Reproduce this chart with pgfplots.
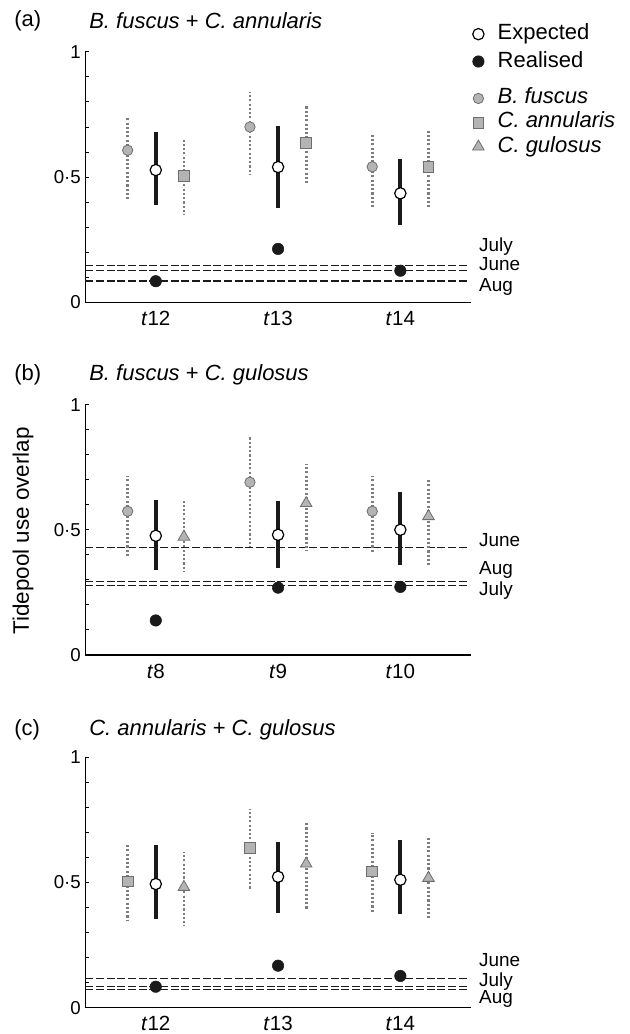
\documentclass[border=0pt]{standalone}
\usepackage{fontspec}
\setmainfont{Liberation Sans}
\usepackage{pgfplots}
\pgfplotsset{compat=1.18}

\definecolor{whisk}{HTML}{7D7D7D}
\definecolor{mfill}{HTML}{B4B4B4}
\definecolor{medge}{HTML}{6E6E6E}
\definecolor{ink}{HTML}{1A1A1A}

\tikzset{mlab/.style={anchor=west, xshift=6.2pt, inner sep=0pt, font=\fontsize{14.2}{15}\selectfont}}

\pgfplotsset{
  panel/.style={
    scale only axis, width=288.9pt, height=187.8pt,
    xmin=0.425, xmax=3.575, ymin=0, ymax=1,
    axis lines=left, axis line style={-, line width=1pt, black},
    clip=false,
    xtick={1,2,3},
    major x tick style={draw=none},
    ytick={0,0.5,1}, yticklabels={0,0·5,1},
    minor ytick={0.1,0.2,0.3,0.4,0.6,0.7,0.8,0.9},
    tick align=inside,
    major tick length=3pt, minor tick length=3pt,
    tick style={black, line width=0.7pt},
    xticklabel style={font=\fontsize{15.4}{16}\selectfont, yshift=-3pt},
    yticklabel style={font=\fontsize{14}{15}\selectfont},
    legend cell align=left,
    legend image code/.code={\path (-8pt,0pt) (8pt,0pt); \draw[##1] plot coordinates {(0pt,0pt)};},
  },
  hline/.style={forget plot, ink, line width=0.9pt, dash pattern=on 6pt off 2pt},
  whis/.style={forget plot,
    error bars/y dir=both, error bars/y explicit, error bars/error mark=none},
  spbar/.style={whis, error bars/error bar style={line width=2pt, whisk, solid, dash pattern=on 1.6pt off 1.6pt}},
  expbar/.style={whis, error bars/error bar style={line width=3pt, ink, solid}},
  exp/.style={only marks, mark=*, mark size=4.25pt, mark options={solid, fill=white, draw=black, line width=0.9pt}},
  real/.style={only marks, mark=*, mark size=4.3pt, mark options={solid, fill=ink, draw=ink}},
  bf/.style={only marks, mark=*, mark size=3.9pt, mark options={solid, fill=mfill, draw=medge, line width=0.6pt}},
  ca/.style={only marks, mark=square*, mark size=4pt, mark options={solid, fill=mfill, draw=medge, line width=0.6pt}},
  cg/.style={only marks, mark=triangle*, mark size=5pt, mark options={solid, fill=mfill, draw=medge, line width=0.6pt}},
}

\begin{document}
\begin{tikzpicture}
\path[use as bounding box] (0pt,0pt) rectangle (471.75pt,-775.5pt);

% (a) B. fuscus + C. annularis
\begin{axis}[panel, at={(64.1pt,-226.7pt)}, anchor=south west,
  xticklabels={\textit{t}12,\textit{t}13,\textit{t}14},
  legend style={at={(0.991,1.113)}, anchor=north west, draw=none, fill=none,
    inner sep=0pt, row sep=5pt, column sep=6.25pt,
    font=\fontsize{16.5}{18}\selectfont,
    nodes={inner sep=0pt, text height=12pt, text depth=3.5pt}}]
\addplot[hline] coordinates {(0.425,0.146) (3.553,0.146)};
\addplot[hline] coordinates {(0.425,0.128) (3.553,0.128)};
\addplot[hline] coordinates {(0.425,0.085) (3.553,0.085)};
\addplot[bf, spbar] coordinates {
  (0.77,0.607) += (0,0.130) -= (0,0.195)
  (1.77,0.700) += (0,0.140) -= (0,0.188)
  (2.77,0.541) += (0,0.129) -= (0,0.168)};
\addplot[ca, spbar] coordinates {
  (1.23,0.505) += (0,0.151) -= (0,0.157)
  (2.23,0.637) += (0,0.153) -= (0,0.169)
  (3.23,0.541) += (0,0.151) -= (0,0.170)};
\addplot[exp, expbar] coordinates {
  (1,0.528) += (0,0.152) -= (0,0.140)
  (2,0.540) += (0,0.165) -= (0,0.162)
  (3,0.435) += (0,0.137) -= (0,0.127)};
\addplot[real, forget plot] coordinates {(1,0.084) (2,0.213) (3,0.126)};
\addlegendimage{exp}
\addlegendentry{Expected}
\addlegendimage{real}
\addlegendentry{Realised}
\node[mlab] at (axis cs:3.575,0.221) {July};
\node[mlab] at (axis cs:3.575,0.152) {June};
\node[mlab] at (axis cs:3.575,0.061) {Aug};
\end{axis}

% (b) B. fuscus + C. gulosus
\begin{axis}[panel, at={(64.1pt,-491.25pt)}, anchor=south west,
  xticklabels={\textit{t}8,\textit{t}9,\textit{t}10},
  legend style={at={(0.991,2.2636)}, anchor=north west, draw=none, fill=none,
    inner sep=0pt, row sep=3.1pt, column sep=6.25pt,
    font=\fontsize{16.5}{18}\selectfont\itshape,
    nodes={inner sep=0pt, text height=11.5pt, text depth=3.5pt}}]
\addplot[hline] coordinates {(0.425,0.429) (3.553,0.429)};
\addplot[hline] coordinates {(0.425,0.294) (3.553,0.294)};
\addplot[hline] coordinates {(0.425,0.278) (3.553,0.278)};
\addplot[bf, spbar] coordinates {
  (0.77,0.574) += (0,0.139) -= (0,0.186)
  (1.77,0.690) += (0,0.183) -= (0,0.256)
  (2.77,0.574) += (0,0.139) -= (0,0.162)};
\addplot[cg, spbar] coordinates {
  (1.23,0.472) += (0,0.143) -= (0,0.140)
  (2.23,0.606) += (0,0.155) -= (0,0.188)
  (3.23,0.554) += (0,0.151) -= (0,0.202)};
\addplot[exp, expbar] coordinates {
  (1,0.476) += (0,0.144) -= (0,0.136)
  (2,0.480) += (0,0.135) -= (0,0.134)
  (3,0.500) += (0,0.151) -= (0,0.140)};
\addplot[real, forget plot] coordinates {(1,0.138) (2,0.269) (3,0.272)};
\addlegendimage{bf}
\addlegendentry{B. fuscus}
\addlegendimage{ca}
\addlegendentry{C. annularis}
\addlegendimage{cg}
\addlegendentry{C. gulosus}
\node[mlab] at (axis cs:3.575,0.458) {June};
\node[mlab] at (axis cs:3.575,0.341) {Aug};
\node[mlab] at (axis cs:3.575,0.258) {July};
\end{axis}

% (c) C. annularis + C. gulosus
\begin{axis}[panel, at={(64.1pt,-755.8pt)}, anchor=south west,
  xticklabels={\textit{t}12,\textit{t}13,\textit{t}14}]
\addplot[hline] coordinates {(0.425,0.117) (3.553,0.117)};
\addplot[hline] coordinates {(0.425,0.085) (3.553,0.085)};
\addplot[hline] coordinates {(0.425,0.072) (3.553,0.072)};
\addplot[ca, spbar] coordinates {
  (0.77,0.505) += (0,0.149) -= (0,0.157)
  (1.77,0.638) += (0,0.155) -= (0,0.165)
  (2.77,0.545) += (0,0.154) -= (0,0.168)};
\addplot[cg, spbar] coordinates {
  (1.23,0.482) += (0,0.140) -= (0,0.154)
  (2.23,0.575) += (0,0.164) -= (0,0.179)
  (3.23,0.518) += (0,0.165) -= (0,0.161)};
\addplot[exp, expbar] coordinates {
  (1,0.494) += (0,0.157) -= (0,0.141)
  (2,0.523) += (0,0.140) -= (0,0.146)
  (3,0.511) += (0,0.158) -= (0,0.138)};
\addplot[real, forget plot] coordinates {(1,0.084) (2,0.168) (3,0.127)};
\node[mlab] at (axis cs:3.575,0.190) {June};
\node[mlab] at (axis cs:3.575,0.104) {July};
\node[mlab] at (axis cs:3.575,0.035) {Aug};
\end{axis}

% panel letters, titles, y label
\begin{scope}[every node/.style={anchor=west, inner sep=0pt, font=\fontsize{16.5}{18}\selectfont}]
\node at (10.5pt,-15.6pt) {(a)};
\node at (66.75pt,-15.6pt) {\textit{B. fuscus} + \textit{C. annularis}};
\node at (10.5pt,-281.25pt) {(b)};
\node at (66.75pt,-281.25pt) {\textit{B. fuscus} + \textit{C. gulosus}};
\node at (10.5pt,-547.5pt) {(c)};
\node at (66.75pt,-547.5pt) {\textit{C. annularis} + \textit{C. gulosus}};
\end{scope}
\node[rotate=90, inner sep=0pt, font=\fontsize{16.8}{18}\selectfont] at (17.25pt,-398.1pt) {Tidepool use overlap};
\end{tikzpicture}
\end{document}
